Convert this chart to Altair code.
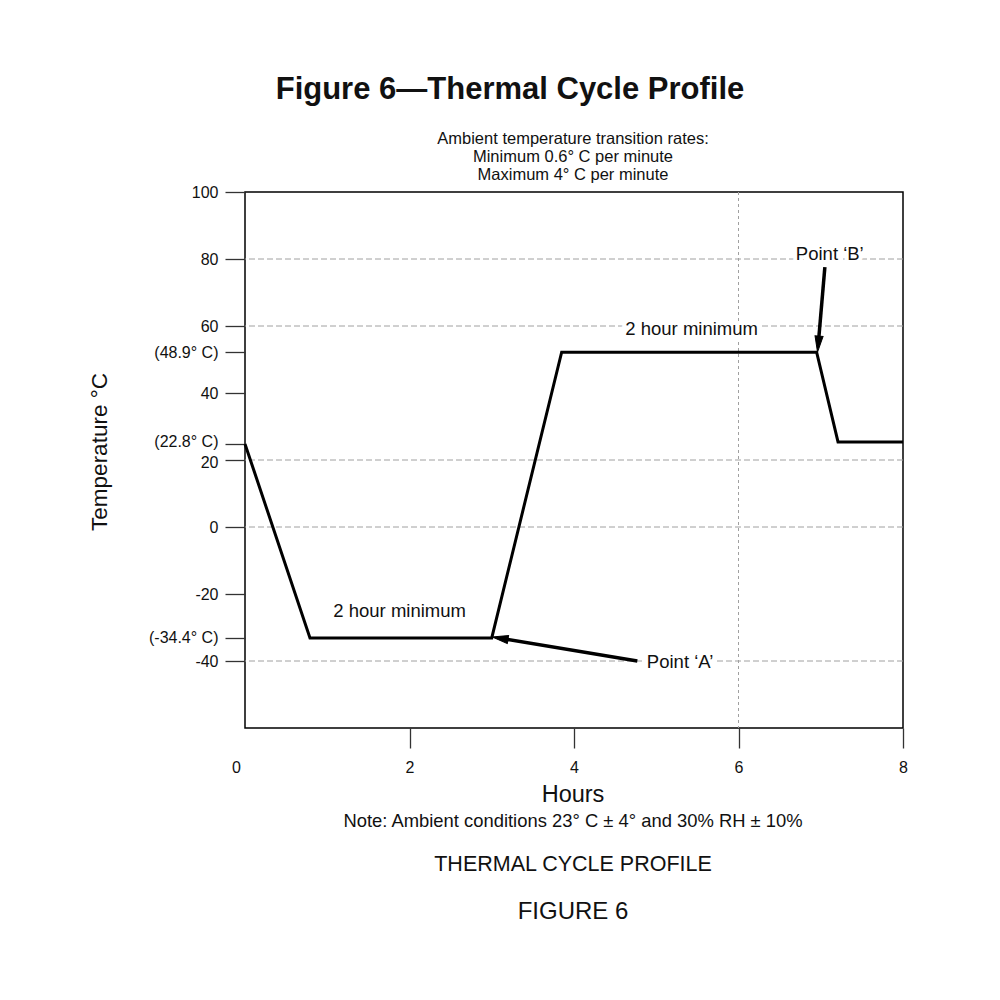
import altair as alt
import pandas as pd

FONT = "Liberation Sans"

# Profile (hours, temperature)
hours = [0, 0.79, 3.0, 3.85, 6.95, 7.21, 8]
temps = [24.8, -33.1, -33.1, 52.2, 52.2, 25.4, 25.4]

# Axis ticks
y_tick_values = [100, 80, 60, 52.2, 40, 24.8, 20, 0, -20, -33.1, -40]
y_tick_labels = ["100", "80", "60", "(48.9° C)", "40", "(22.8° C)", "20", "0", "-20", "(-34.4°  C)", "-40"]
x_tick_values = [0, 2, 4, 6, 8]

# Reference lines
grid_y = [80, 60, 20, 0, -40]
grid_x = [6]

# In-plot labels
label_text = ["2 hour minimum", "2 hour minimum", "Point ‘B’", "Point ‘A’"]
label_h = [1.88, 5.43, 7.11, 5.29]
label_t = [-25.1, 59.1, 81.5, -40.3]

# Arrows (shaft start, head position, head angle)
arrow_from_h = [7.05, 4.77]
arrow_from_t = [77.6, -40.0]
arrow_head_h = [6.97, 3.10]
arrow_head_t = [54.6, -33.2]
arrow_angle = [185.4, 279.4]

profile = pd.DataFrame({"h": hours, "t": temps})
gy = pd.DataFrame({"t": grid_y})
gx = pd.DataFrame({"h": grid_x})
labels = pd.DataFrame({"text": label_text, "h": label_h, "t": label_t})
arrows = pd.DataFrame({"h": arrow_from_h, "t": arrow_from_t,
                       "h2": arrow_head_h, "t2": arrow_head_t, "angle": arrow_angle})

label_expr = "".join(
    f"datum.value == {v} ? '{l}' : " for v, l in zip(y_tick_values, y_tick_labels)
) + "''"

xs = alt.Scale(domain=[0, 8], nice=False, zero=False)
ys = alt.Scale(domain=[-60, 100], nice=False, zero=False)

x_axis = alt.Axis(values=x_tick_values, title=None, grid=False, domain=False, format="d",
                  tickSize=20, tickWidth=1.3, labelFlush=False,
                  tickColor={"condition": {"test": "datum.value == 0", "value": "transparent"}, "value": "#333"},
                  labelFontSize=16, labelFont=FONT, labelColor="#111", labelPadding=11,
                  labelOffset={"condition": {"test": "datum.value == 0", "value": -9}, "value": 0})
y_axis = alt.Axis(values=y_tick_values, title=None, grid=False, domain=False,
                  tickSize=20, tickWidth=1.3, tickColor="#333",
                  labelFontSize=16, labelFont=FONT, labelColor="#111", labelPadding=7,
                  labelOffset={"condition": [{"test": "datum.value == 24.8", "value": -2},
                                             {"test": "datum.value == 20", "value": 2}], "value": 0},
                  labelExpr=label_expr, labelOverlap=False, labelBound=False)

hgrid = alt.Chart(gy).mark_rule(color="#a0a0a0", strokeWidth=1, strokeDash=[6, 3]).encode(
    y=alt.Y("t:Q", scale=ys, axis=y_axis))
vgrid = alt.Chart(gx).mark_rule(color="#a0a0a0", strokeWidth=1, strokeDash=[3, 3]).encode(
    x=alt.X("h:Q", scale=xs, axis=x_axis))

line = alt.Chart(profile).mark_line(color="black", strokeWidth=3, strokeJoin="miter").encode(
    x=alt.X("h:Q", scale=xs, axis=x_axis),
    y=alt.Y("t:Q", scale=ys, axis=y_axis),
    order=alt.Order("h:Q"))

shafts = alt.Chart(arrows).mark_rule(color="black", strokeWidth=3.5).encode(
    x=alt.X("h:Q", scale=xs), y=alt.Y("t:Q", scale=ys),
    x2="h2:Q", y2="t2:Q")
heads = alt.Chart(arrows).mark_point(shape="M0,-1L0.5,1L-0.5,1Z", filled=True, fill="black",
                                     stroke="black", strokeWidth=1, size=260, opacity=1).encode(
    x=alt.X("h2:Q", scale=xs), y=alt.Y("t2:Q", scale=ys),
    angle=alt.Angle("angle:Q", scale=None))

halo = alt.Chart(labels).mark_text(font=FONT, fontSize=18.5, color="white", stroke="white",
                                   strokeWidth=8, baseline="middle").encode(
    x=alt.X("h:Q", scale=xs), y=alt.Y("t:Q", scale=ys), text="text:N")
texts = alt.Chart(labels).mark_text(font=FONT, fontSize=18.5, color="#111", baseline="middle").encode(
    x=alt.X("h:Q", scale=xs), y=alt.Y("t:Q", scale=ys), text="text:N")


def note(text, x, y, size, weight="normal", angle=0, line_height=None):
    kw = dict(text=text, font=FONT, fontSize=size, fontWeight=weight, angle=angle,
              align="center", baseline="middle", color="#111")
    if line_height is not None:
        kw["lineHeight"] = line_height
    return alt.Chart(alt.Data(values=[{}])).mark_text(**kw).encode(
        x=alt.value(x), y=alt.value(y))


annotations = [
    note("Figure 6—Thermal Cycle Profile", 265, -102, 31, weight="bold"),
    note(["Ambient temperature transition rates:", "Minimum 0.6° C per minute", "Maximum 4° C per minute"],
         328, -53, 16.5, line_height=18),
    note("Temperature °C", -145, 260, 22.5, angle=270),
    note("Hours", 328, 603, 23.5),
    note("Note: Ambient conditions 23° C ± 4° and 30% RH ± 10%", 328, 629, 18.4),
    note("THERMAL CYCLE PROFILE", 328, 673, 21.5),
    note("FIGURE 6", 328, 720, 24),
]

chart = alt.layer(hgrid, vgrid, line, shafts, heads, halo, texts, *annotations).properties(
    width=658, height=536,
    padding={"left": 245, "top": 192, "right": 97, "bottom": 272},
    autosize=alt.AutoSizeParams(type="none"),
    background="white",
).configure_view(stroke="black", strokeWidth=1.5)

chart.save("out.html", embed_options={"renderer": "svg", "actions": False})
